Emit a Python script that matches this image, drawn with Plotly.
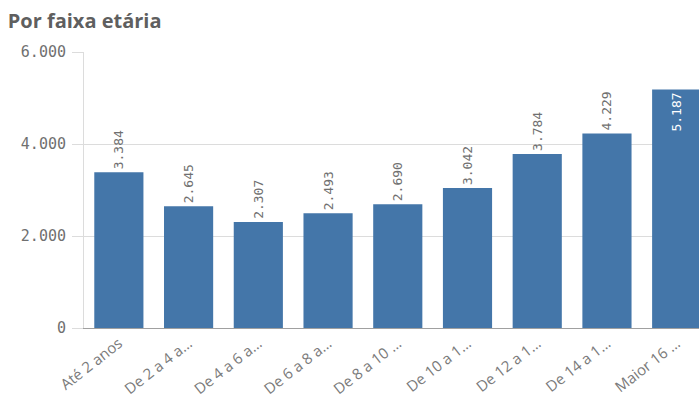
import plotly.graph_objects as go

categories = ["Até 2 anos", "De 2 a 4 a…", "De 4 a 6 a…", "De 6 a 8 a…", "De 8 a 10 …",
              "De 10 a 1…", "De 12 a 1…", "De 14 a 1…", "Maior 16 …"]
values = [3384, 2645, 2307, 2493, 2690, 3042, 3784, 4229, 5187]
y_ticks = [0, 2000, 4000, 6000]

bar_color = "#4476a9"
text_gray = "#707070"

positions = ["outside"] * (len(values) - 1) + ["inside"]

fig = go.Figure(go.Bar(
    x=categories,
    y=values,
    marker=dict(color=bar_color, line=dict(width=0)),
    texttemplate="%{y:,.0f}",
    textposition=positions,
    insidetextanchor="end",
    textangle=-90,
    constraintext="none",
    cliponaxis=True,
    outsidetextfont=dict(family="DejaVu Sans Mono", size=13, color=text_gray),
    insidetextfont=dict(family="DejaVu Sans Mono", size=13, color="white"),
    hoverinfo="skip",
))

fig.update_layout(
    width=699, height=397,
    margin=dict(l=84, r=0, t=52, b=69),
    paper_bgcolor="white", plot_bgcolor="white",
    separators=",.",
    bargap=0.295,
    showlegend=False,
    title=dict(text="<b>Por faixa etária</b>", x=0.011, xanchor="left", y=0.948, yanchor="middle",
               font=dict(family="Open Sans", size=20, color="#5f5f5f")),
    xaxis=dict(
        range=[-0.5, 8.32],
        tickangle=-38,
        tickfont=dict(family="Open Sans", size=15, color="#7a7a7a"),
        showline=True, linecolor="#a0a0a0", linewidth=1,
        ticks="", showgrid=False, fixedrange=True,
    ),
    yaxis=dict(
        range=[0, 6000],
        tickvals=y_ticks,
        tickformat=",.0f",
        tickfont=dict(family="DejaVu Sans Mono", size=15, color=text_gray),
        ticklabelstandoff=3,
        showgrid=True, gridcolor="#dcdcdc", gridwidth=1,
        showline=True, linecolor="#dcdcdc", linewidth=1,
        ticks="outside", ticklen=11, tickcolor="#dcdcdc",
        zeroline=False, fixedrange=True,
    ),
)

fig.write_html("out.html")
